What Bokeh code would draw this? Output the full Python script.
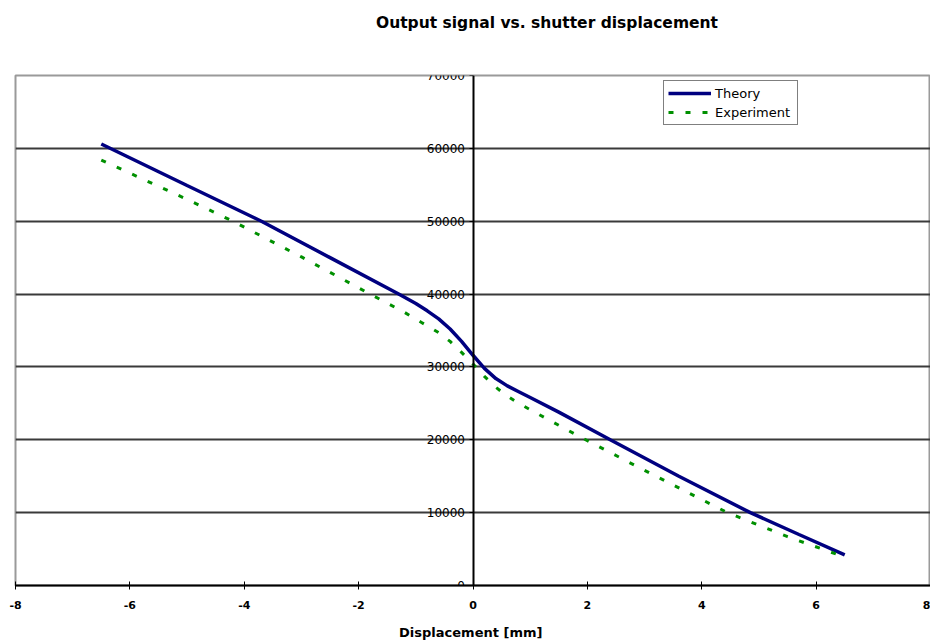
from bokeh.plotting import figure
from bokeh.models import Range1d, FixedTicker, Legend, LegendItem, NumeralTickFormatter, Div
from bokeh.layouts import column
from bokeh.embed import file_html
from bokeh.resources import INLINE

theory_x = [-6.5, -5.0, -3.7, -2.5, -1.3, -1.0, -0.8, -0.6, -0.4, -0.2, 0.0, 0.2, 0.4, 0.6, 0.8, 1.0, 1.5, 2.4, 3.6, 4.85, 5.7, 6.5]
theory_y = [60600, 54900, 50000, 45000, 40000, 38700, 37700, 36600, 35200, 33500, 31600, 29800, 28400, 27400, 26600, 25800, 23800, 20000, 15000, 10000, 7000, 4200]

exp_x = [-6.5, -5.0, -4.2, -3.0, -1.8, -1.2, -0.9, -0.6, -0.4, -0.2, 0.0, 0.2, 0.4, 0.6, 0.8, 1.1, 1.8, 3.0, 4.45, 5.5, 6.5]
exp_y = [58400, 53000, 50000, 45100, 40000, 37500, 36100, 34700, 33500, 32000, 30400, 28700, 27200, 26000, 25000, 23700, 20700, 15800, 10000, 6700, 3900]

x_ticks = [-8, -6, -4, -2, 0, 2, 4, 6, 8]
y_ticks = [0, 10000, 20000, 30000, 40000, 50000, 60000, 70000]

title_text = "Output signal vs. shutter displacement"

FONT = "DejaVu Sans"

title_div = Div(text=title_text, width=930, height=34,
                styles={"font-family": FONT, "font-size": "15.5px", "font-weight": "bold",
                        "color": "black", "padding-left": "371px", "padding-top": "8px",
                        "line-height": "20px", "box-sizing": "border-box"})

p = figure(width=930, height=598, output_backend="svg", toolbar_location=None,
           x_range=Range1d(-8, 8), y_range=Range1d(0, 70000),
           min_border_left=15, min_border_right=0, min_border_top=31, min_border_bottom=10)

p.outline_line_color = "#9a9a9a"
p.outline_line_width = 2
p.background_fill_color = "white"

# x axis
p.xaxis.ticker = FixedTicker(ticks=x_ticks)
p.xaxis.major_label_overrides = {t: str(t) for t in x_ticks}
p.xaxis.axis_label = "Displacement  [mm]"
p.xaxis.axis_label_text_font = FONT
p.xaxis.axis_label_text_font_style = "bold"
p.xaxis.axis_label_text_font_size = "13px"
p.xaxis.axis_label_text_color = "black"
p.xaxis.axis_label_standoff = 13
p.xaxis.major_label_text_font = FONT
p.xaxis.major_label_text_font_size = "11px"
p.xaxis.major_label_text_font_style = "bold"
p.xaxis.major_label_text_color = "black"
p.xaxis.major_label_standoff = 11
p.xaxis.axis_line_color = "black"
p.xaxis.axis_line_width = 2
p.xaxis.major_tick_in = 4
p.xaxis.major_tick_out = 4
p.xaxis.major_tick_line_color = "black"
p.xaxis.minor_tick_line_color = None

# y axis at x=0
p.yaxis.fixed_location = 0
p.yaxis.ticker = FixedTicker(ticks=y_ticks)
p.yaxis.formatter = NumeralTickFormatter(format="0")
p.yaxis.major_label_text_font = FONT
p.yaxis.major_label_text_font_size = "12px"
p.yaxis.major_label_text_color = "black"
p.yaxis.major_label_standoff = 4
p.yaxis.axis_line_color = "black"
p.yaxis.axis_line_width = 2
p.yaxis.major_tick_in = 0
p.yaxis.major_tick_out = 4
p.yaxis.major_tick_line_color = "black"
p.yaxis.minor_tick_line_color = None

p.xgrid.grid_line_color = None
p.ygrid.ticker = FixedTicker(ticks=y_ticks)
p.ygrid.grid_line_color = "#3a3a3a"
p.ygrid.grid_line_width = 2

r1 = p.line(theory_x, theory_y, line_color="#000080", line_width=3.5)
r2 = p.line(exp_x, exp_y, line_color="#009000", line_width=3, line_dash="5 12")

legend = Legend(items=[LegendItem(label="Theory", renderers=[r1]),
                       LegendItem(label="Experiment", renderers=[r2])],
                location=(648, 460))
legend.label_text_font = FONT
legend.label_text_font_size = "13px"
legend.label_text_color = "black"
legend.border_line_color = "black"
legend.border_line_width = 1.5
legend.glyph_width = 43
legend.glyph_height = 16
legend.label_height = 16
legend.label_width = 78
legend.spacing = 3
legend.padding = 4
legend.margin = 0
legend.label_standoff = 4
legend.background_fill_alpha = 1
p.add_layout(legend)

layout = column(title_div, p, spacing=0)

open("out.html", "w").write(file_html(layout, INLINE))
